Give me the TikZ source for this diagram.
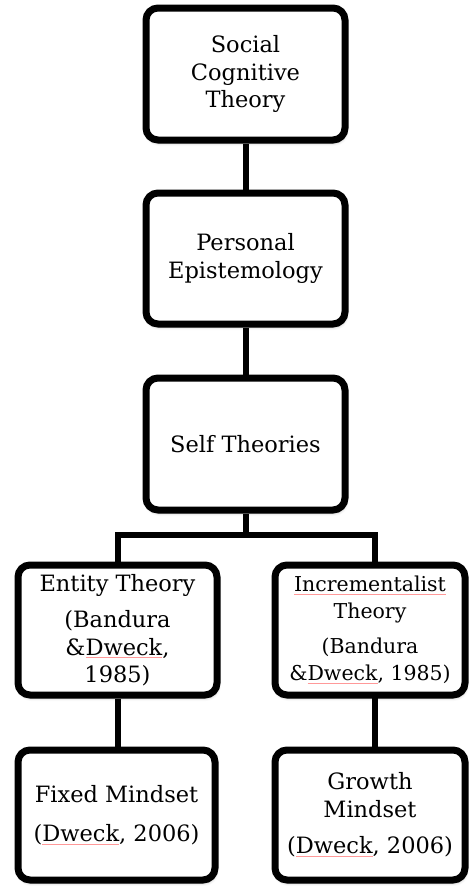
\documentclass[tikz,border=0pt]{standalone}
\usepackage{fontspec}
\setmainfont{DejaVu Serif}
\usetikzlibrary{shadows.blur}
\newcommand\squig[1]{\setbox0\hbox{#1}\rlap{\textcolor{red!40}{\rule[-3pt]{\wd0}{0.6pt}}}\box0}
\tikzset{
  box/.style={draw=black, line width=7pt, rounded corners=12pt, fill=white,
    align=center, inner sep=2pt, font=\fontsize{22.5}{27.5}\selectfont,
    blur shadow={shadow xshift=1pt, shadow yshift=-3pt, shadow blur radius=3pt, shadow opacity=30}},
  link/.style={draw=black, line width=6pt}
}
\begin{document}
\begin{tikzpicture}[x=1pt,y=-1pt]
\useasboundingbox (0,0) rectangle (469,886);
\coordinate (bar) at (245.5,535);
\coordinate (barL) at (117.5,535);
\coordinate (barR) at (375,535);
\coordinate (rtop) at (375,565);
\coordinate (rmid) at (375,695);
\coordinate (rbot) at (375,750);
\node[box, minimum width=199pt, minimum height=132pt] (b1) at (245.5,74) {Social\\Cognitive\\Theory};
\node[box, minimum width=199pt, minimum height=131pt] (b2) at (245.5,258.5) {Personal\\Epistemology};
\node[box, minimum width=199pt, minimum height=132pt] (b3) at (245.5,444) {Self Theories};
\draw[link] (b1.south) -- (b2.north);
\draw[link] (b2.south) -- (b3.north);
\draw[link] (b3.south) -- (bar);
\draw[link, line cap=rect] (barL) -- (barR);
\draw[link] (barL) -- ++(0,28);
\draw[link] (barR) -- (rtop);
\draw[link] (rmid) -- (rbot);
\node[box, minimum width=199pt, minimum height=130pt] (b4l) at (117.5,630) {Entity Theory\\[9pt](Bandura\\\&\squig{Dweck},\\1985)};
\node[box, minimum width=190pt, minimum height=130pt, font=\fontsize{20.5}{27}\selectfont] (b4r) at (370,630) {\squig{Incrementalist}\\Theory\\[8pt](Bandura\\\&\squig{Dweck}, 1985)};
\node[box, minimum width=197pt, minimum height=130pt] (b5l) at (116.5,815) {Fixed Mindset\\[12pt](\squig{Dweck}, 2006)};
\node[box, minimum width=190pt, minimum height=130pt] (b5r) at (370,815) {Growth\\Mindset\\[9pt](\squig{Dweck}, 2006)};
\draw[link] (b4l.south) -- (b5l.north -| b4l.south);
\end{tikzpicture}
\end{document}
